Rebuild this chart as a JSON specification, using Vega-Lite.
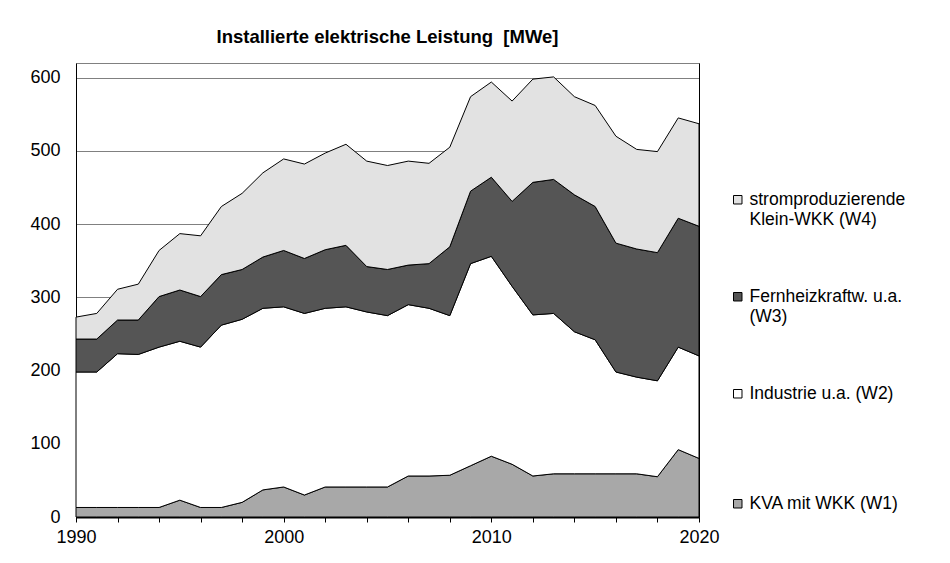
{
  "$schema": "https://vega.github.io/schema/vega-lite/v6.json",
  "autosize": {"type": "none"},
  "width": 623,
  "height": 454,
  "padding": {"left": 76, "top": 63, "right": 251, "bottom": 46},
  "background": "white",
  "config": {
    "font": "Liberation Sans",
    "view": {"stroke": "#808080", "strokeWidth": 1},
    "axis": {"labelFont": "Liberation Sans", "labelColor": "black", "labelFontSize": 18, "titleFont": "Liberation Sans"}
  },
  "title": {
    "text": "Installierte elektrische Leistung \u00a0[MWe]",
    "font": "Liberation Sans",
    "fontSize": 18.5,
    "fontWeight": "bold",
    "color": "black",
    "anchor": "middle",
    "offset": 17
  },
  "data": {
    "values": [
      {"year": 1990, "w": "W1", "s": "KVA mit WKK (W1)", "v": 13}, {"year": 1990, "w": "W2", "s": "Industrie u.a. (W2)", "v": 185}, {"year": 1990, "w": "W3", "s": "Fernheizkraftw. u.a. (W3)", "v": 45}, {"year": 1990, "w": "W4", "s": "stromproduzierende Klein-WKK (W4)", "v": 30},
      {"year": 1991, "w": "W1", "s": "KVA mit WKK (W1)", "v": 13}, {"year": 1991, "w": "W2", "s": "Industrie u.a. (W2)", "v": 185}, {"year": 1991, "w": "W3", "s": "Fernheizkraftw. u.a. (W3)", "v": 45}, {"year": 1991, "w": "W4", "s": "stromproduzierende Klein-WKK (W4)", "v": 35},
      {"year": 1992, "w": "W1", "s": "KVA mit WKK (W1)", "v": 13}, {"year": 1992, "w": "W2", "s": "Industrie u.a. (W2)", "v": 210}, {"year": 1992, "w": "W3", "s": "Fernheizkraftw. u.a. (W3)", "v": 46}, {"year": 1992, "w": "W4", "s": "stromproduzierende Klein-WKK (W4)", "v": 42},
      {"year": 1993, "w": "W1", "s": "KVA mit WKK (W1)", "v": 13}, {"year": 1993, "w": "W2", "s": "Industrie u.a. (W2)", "v": 209}, {"year": 1993, "w": "W3", "s": "Fernheizkraftw. u.a. (W3)", "v": 47}, {"year": 1993, "w": "W4", "s": "stromproduzierende Klein-WKK (W4)", "v": 49},
      {"year": 1994, "w": "W1", "s": "KVA mit WKK (W1)", "v": 13}, {"year": 1994, "w": "W2", "s": "Industrie u.a. (W2)", "v": 219}, {"year": 1994, "w": "W3", "s": "Fernheizkraftw. u.a. (W3)", "v": 69}, {"year": 1994, "w": "W4", "s": "stromproduzierende Klein-WKK (W4)", "v": 63},
      {"year": 1995, "w": "W1", "s": "KVA mit WKK (W1)", "v": 23}, {"year": 1995, "w": "W2", "s": "Industrie u.a. (W2)", "v": 217}, {"year": 1995, "w": "W3", "s": "Fernheizkraftw. u.a. (W3)", "v": 70}, {"year": 1995, "w": "W4", "s": "stromproduzierende Klein-WKK (W4)", "v": 77},
      {"year": 1996, "w": "W1", "s": "KVA mit WKK (W1)", "v": 13}, {"year": 1996, "w": "W2", "s": "Industrie u.a. (W2)", "v": 219}, {"year": 1996, "w": "W3", "s": "Fernheizkraftw. u.a. (W3)", "v": 69}, {"year": 1996, "w": "W4", "s": "stromproduzierende Klein-WKK (W4)", "v": 83},
      {"year": 1997, "w": "W1", "s": "KVA mit WKK (W1)", "v": 13}, {"year": 1997, "w": "W2", "s": "Industrie u.a. (W2)", "v": 249}, {"year": 1997, "w": "W3", "s": "Fernheizkraftw. u.a. (W3)", "v": 69}, {"year": 1997, "w": "W4", "s": "stromproduzierende Klein-WKK (W4)", "v": 93},
      {"year": 1998, "w": "W1", "s": "KVA mit WKK (W1)", "v": 20}, {"year": 1998, "w": "W2", "s": "Industrie u.a. (W2)", "v": 250}, {"year": 1998, "w": "W3", "s": "Fernheizkraftw. u.a. (W3)", "v": 68}, {"year": 1998, "w": "W4", "s": "stromproduzierende Klein-WKK (W4)", "v": 104},
      {"year": 1999, "w": "W1", "s": "KVA mit WKK (W1)", "v": 37}, {"year": 1999, "w": "W2", "s": "Industrie u.a. (W2)", "v": 248}, {"year": 1999, "w": "W3", "s": "Fernheizkraftw. u.a. (W3)", "v": 70}, {"year": 1999, "w": "W4", "s": "stromproduzierende Klein-WKK (W4)", "v": 115},
      {"year": 2000, "w": "W1", "s": "KVA mit WKK (W1)", "v": 41}, {"year": 2000, "w": "W2", "s": "Industrie u.a. (W2)", "v": 246}, {"year": 2000, "w": "W3", "s": "Fernheizkraftw. u.a. (W3)", "v": 77}, {"year": 2000, "w": "W4", "s": "stromproduzierende Klein-WKK (W4)", "v": 125},
      {"year": 2001, "w": "W1", "s": "KVA mit WKK (W1)", "v": 30}, {"year": 2001, "w": "W2", "s": "Industrie u.a. (W2)", "v": 248}, {"year": 2001, "w": "W3", "s": "Fernheizkraftw. u.a. (W3)", "v": 75}, {"year": 2001, "w": "W4", "s": "stromproduzierende Klein-WKK (W4)", "v": 129},
      {"year": 2002, "w": "W1", "s": "KVA mit WKK (W1)", "v": 41}, {"year": 2002, "w": "W2", "s": "Industrie u.a. (W2)", "v": 244}, {"year": 2002, "w": "W3", "s": "Fernheizkraftw. u.a. (W3)", "v": 80}, {"year": 2002, "w": "W4", "s": "stromproduzierende Klein-WKK (W4)", "v": 132},
      {"year": 2003, "w": "W1", "s": "KVA mit WKK (W1)", "v": 41}, {"year": 2003, "w": "W2", "s": "Industrie u.a. (W2)", "v": 246}, {"year": 2003, "w": "W3", "s": "Fernheizkraftw. u.a. (W3)", "v": 84}, {"year": 2003, "w": "W4", "s": "stromproduzierende Klein-WKK (W4)", "v": 138},
      {"year": 2004, "w": "W1", "s": "KVA mit WKK (W1)", "v": 41}, {"year": 2004, "w": "W2", "s": "Industrie u.a. (W2)", "v": 239}, {"year": 2004, "w": "W3", "s": "Fernheizkraftw. u.a. (W3)", "v": 62}, {"year": 2004, "w": "W4", "s": "stromproduzierende Klein-WKK (W4)", "v": 144},
      {"year": 2005, "w": "W1", "s": "KVA mit WKK (W1)", "v": 41}, {"year": 2005, "w": "W2", "s": "Industrie u.a. (W2)", "v": 234}, {"year": 2005, "w": "W3", "s": "Fernheizkraftw. u.a. (W3)", "v": 63}, {"year": 2005, "w": "W4", "s": "stromproduzierende Klein-WKK (W4)", "v": 142},
      {"year": 2006, "w": "W1", "s": "KVA mit WKK (W1)", "v": 56}, {"year": 2006, "w": "W2", "s": "Industrie u.a. (W2)", "v": 234}, {"year": 2006, "w": "W3", "s": "Fernheizkraftw. u.a. (W3)", "v": 54}, {"year": 2006, "w": "W4", "s": "stromproduzierende Klein-WKK (W4)", "v": 142},
      {"year": 2007, "w": "W1", "s": "KVA mit WKK (W1)", "v": 56}, {"year": 2007, "w": "W2", "s": "Industrie u.a. (W2)", "v": 229}, {"year": 2007, "w": "W3", "s": "Fernheizkraftw. u.a. (W3)", "v": 61}, {"year": 2007, "w": "W4", "s": "stromproduzierende Klein-WKK (W4)", "v": 137},
      {"year": 2008, "w": "W1", "s": "KVA mit WKK (W1)", "v": 57}, {"year": 2008, "w": "W2", "s": "Industrie u.a. (W2)", "v": 218}, {"year": 2008, "w": "W3", "s": "Fernheizkraftw. u.a. (W3)", "v": 94}, {"year": 2008, "w": "W4", "s": "stromproduzierende Klein-WKK (W4)", "v": 136},
      {"year": 2009, "w": "W1", "s": "KVA mit WKK (W1)", "v": 70}, {"year": 2009, "w": "W2", "s": "Industrie u.a. (W2)", "v": 276}, {"year": 2009, "w": "W3", "s": "Fernheizkraftw. u.a. (W3)", "v": 99}, {"year": 2009, "w": "W4", "s": "stromproduzierende Klein-WKK (W4)", "v": 129},
      {"year": 2010, "w": "W1", "s": "KVA mit WKK (W1)", "v": 83}, {"year": 2010, "w": "W2", "s": "Industrie u.a. (W2)", "v": 273}, {"year": 2010, "w": "W3", "s": "Fernheizkraftw. u.a. (W3)", "v": 108}, {"year": 2010, "w": "W4", "s": "stromproduzierende Klein-WKK (W4)", "v": 130},
      {"year": 2011, "w": "W1", "s": "KVA mit WKK (W1)", "v": 72}, {"year": 2011, "w": "W2", "s": "Industrie u.a. (W2)", "v": 243}, {"year": 2011, "w": "W3", "s": "Fernheizkraftw. u.a. (W3)", "v": 116}, {"year": 2011, "w": "W4", "s": "stromproduzierende Klein-WKK (W4)", "v": 137},
      {"year": 2012, "w": "W1", "s": "KVA mit WKK (W1)", "v": 56}, {"year": 2012, "w": "W2", "s": "Industrie u.a. (W2)", "v": 220}, {"year": 2012, "w": "W3", "s": "Fernheizkraftw. u.a. (W3)", "v": 181}, {"year": 2012, "w": "W4", "s": "stromproduzierende Klein-WKK (W4)", "v": 141},
      {"year": 2013, "w": "W1", "s": "KVA mit WKK (W1)", "v": 59}, {"year": 2013, "w": "W2", "s": "Industrie u.a. (W2)", "v": 219}, {"year": 2013, "w": "W3", "s": "Fernheizkraftw. u.a. (W3)", "v": 183}, {"year": 2013, "w": "W4", "s": "stromproduzierende Klein-WKK (W4)", "v": 140},
      {"year": 2014, "w": "W1", "s": "KVA mit WKK (W1)", "v": 59}, {"year": 2014, "w": "W2", "s": "Industrie u.a. (W2)", "v": 194}, {"year": 2014, "w": "W3", "s": "Fernheizkraftw. u.a. (W3)", "v": 187}, {"year": 2014, "w": "W4", "s": "stromproduzierende Klein-WKK (W4)", "v": 134},
      {"year": 2015, "w": "W1", "s": "KVA mit WKK (W1)", "v": 59}, {"year": 2015, "w": "W2", "s": "Industrie u.a. (W2)", "v": 183}, {"year": 2015, "w": "W3", "s": "Fernheizkraftw. u.a. (W3)", "v": 182}, {"year": 2015, "w": "W4", "s": "stromproduzierende Klein-WKK (W4)", "v": 138},
      {"year": 2016, "w": "W1", "s": "KVA mit WKK (W1)", "v": 59}, {"year": 2016, "w": "W2", "s": "Industrie u.a. (W2)", "v": 139}, {"year": 2016, "w": "W3", "s": "Fernheizkraftw. u.a. (W3)", "v": 176}, {"year": 2016, "w": "W4", "s": "stromproduzierende Klein-WKK (W4)", "v": 146},
      {"year": 2017, "w": "W1", "s": "KVA mit WKK (W1)", "v": 59}, {"year": 2017, "w": "W2", "s": "Industrie u.a. (W2)", "v": 132}, {"year": 2017, "w": "W3", "s": "Fernheizkraftw. u.a. (W3)", "v": 175}, {"year": 2017, "w": "W4", "s": "stromproduzierende Klein-WKK (W4)", "v": 136},
      {"year": 2018, "w": "W1", "s": "KVA mit WKK (W1)", "v": 55}, {"year": 2018, "w": "W2", "s": "Industrie u.a. (W2)", "v": 131}, {"year": 2018, "w": "W3", "s": "Fernheizkraftw. u.a. (W3)", "v": 175}, {"year": 2018, "w": "W4", "s": "stromproduzierende Klein-WKK (W4)", "v": 138},
      {"year": 2019, "w": "W1", "s": "KVA mit WKK (W1)", "v": 92}, {"year": 2019, "w": "W2", "s": "Industrie u.a. (W2)", "v": 140}, {"year": 2019, "w": "W3", "s": "Fernheizkraftw. u.a. (W3)", "v": 176}, {"year": 2019, "w": "W4", "s": "stromproduzierende Klein-WKK (W4)", "v": 137},
      {"year": 2020, "w": "W1", "s": "KVA mit WKK (W1)", "v": 80}, {"year": 2020, "w": "W2", "s": "Industrie u.a. (W2)", "v": 140}, {"year": 2020, "w": "W3", "s": "Fernheizkraftw. u.a. (W3)", "v": 177}, {"year": 2020, "w": "W4", "s": "stromproduzierende Klein-WKK (W4)", "v": 140}
    ]
  },
  "layer": [
    {
      "mark": {"type": "area", "stroke": "black", "strokeWidth": 1, "opacity": 1},
      "encoding": {
        "x": {
          "field": "year", "type": "quantitative",
          "scale": {"domain": [1990, 2020], "nice": false, "zero": false},
          "axis": {
            "title": null,
            "values": [1990,1991,1992,1993,1994,1995,1996,1997,1998,1999,2000,2001,2002,2003,2004,2005,2006,2007,2008,2009,2010,2011,2012,2013,2014,2015,2016,2017,2018,2019,2020],
            "format": "d",
            "labelExpr": "datum.value % 5 === 0 ? datum.label : ''",
            "grid": false,
            "domainColor": "black",
            "domainWidth": 2,
            "tickColor": "black",
            "tickSize": 5,
            "labelPadding": 6,
            "labelFlush": false,
            "labelOverlap": false
          }
        },
        "y": {
          "field": "v", "type": "quantitative", "stack": "zero",
          "scale": {"domain": [0, 620], "nice": false},
          "axis": {
            "title": null,
            "values": [0, 100, 200, 300, 400, 500, 600],
            "grid": true,
            "gridColor": "#808080",
            "gridWidth": 1,
            "ticks": false,
            "domainColor": "black",
            "labelPadding": 16
          }
        },
        "order": {"field": "w", "sort": "ascending"},
        "color": {
          "field": "s", "type": "nominal",
          "scale": {"domain": ["stromproduzierende Klein-WKK (W4)", "Fernheizkraftw. u.a. (W3)", "Industrie u.a. (W2)", "KVA mit WKK (W1)"], "range": ["#e2e2e2", "#555555", "#ffffff", "#a8a8a8"]},
          "legend": {
            "title": null,
            "orient": "none",
            "legendX": 653,
            "legendY": 128,
            "symbolType": "square",
            "symbolSize": 72,
            "symbolStrokeColor": "black",
            "symbolStrokeWidth": 1,
            "symbolOpacity": 1,
            "labelFont": "Liberation Sans",
            "labelFontSize": 17.5,
            "labelColor": "black",
            "labelLimit": 300,
            "labelOffset": 3,
            "labelBaseline": "top",
            "labelExpr": "datum.label === 'stromproduzierende Klein-WKK (W4)' ? ['stromproduzierende', 'Klein-WKK (W4)'] : datum.label === 'Fernheizkraftw. u.a. (W3)' ? ['Fernheizkraftw. u.a.', '(W3)'] : [datum.label, ' ']",
            "rowPadding": 58,
            "encode": {"labels": {"update": {
              "dy": {"value": -9},
              "lineHeight": {"signal": "datum.value === 'Industrie u.a. (W2)' ? 33 : 20"}
            }}}
          }
        }
      }
    },
    {
      "mark": {"type": "line", "opacity": 0},
      "encoding": {
        "x": {"field": "year", "type": "quantitative"},
        "y": {
          "field": "v", "type": "quantitative",
          "axis": {"orient": "right", "title": null, "labels": false, "ticks": false, "grid": false, "domainColor": "black"}
        }
      }
    }
  ],
  "resolve": {"axis": {"y": "independent"}}
}
